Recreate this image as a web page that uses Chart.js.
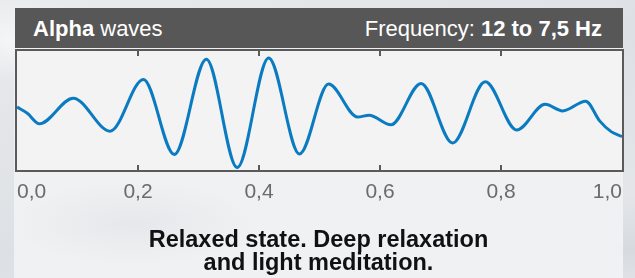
<!DOCTYPE html>
<html>
<head>
<meta charset="utf-8">
<script src="https://cdn.jsdelivr.net/npm/chart.js@4/dist/chart.umd.min.js"></script>
<style>
  html, body { margin: 0; padding: 0; }
  body {
    width: 635px; height: 278px; overflow: hidden; position: relative;
    font-family: "Liberation Sans", Arial, sans-serif;
    background:
      radial-gradient(ellipse 120px 60px at 20px 40px, rgba(255,255,255,0.6), rgba(255,255,255,0) 70%),
      radial-gradient(ellipse 200px 80px at 630px 250px, rgba(200,205,212,0.5), rgba(200,205,212,0) 70%),
      linear-gradient(160deg, #e9ebed 0%, #dde1e5 50%, #e6e8eb 100%);
  }
  #panel {
    position: absolute; left: 14px; top: 8px; width: 609px; height: 270px;
    background:
      radial-gradient(ellipse 180px 60px at 120px 215px, rgba(222,226,231,0.6), rgba(222,226,231,0) 70%),
      rgba(241,242,243,0.92);
  }
  #header {
    position: absolute; left: 15px; top: 8px; width: 608px; height: 40px;
    background: #575757; color: #fff; font-size: 22px; line-height: 40px;
    z-index: 2;
  }
  #header .left { position: absolute; left: 18px; top: 1px; }
  #header .right { position: absolute; right: 21px; top: 1px; }
  #caption {
    position: absolute; left: 14px; width: 609px; top: 228px;
    text-align: center; font-weight: bold; font-size: 23.5px; line-height: 23px;
    color: #111; z-index: 2;
  }
  #wave { position: absolute; left: 0; top: 0; z-index: 1; }
</style>
</head>
<body>
<div id="panel"></div>
<div id="header">
  <span class="left"><b>Alpha</b> waves</span>
  <span class="right">Frequency: <b>12 to 7,5 Hz</b></span>
</div>
<canvas id="wave" width="635" height="278"></canvas>
<div id="caption">Relaxed state. Deep relaxation<br>and light meditation.</div>

<script>
// time in seconds and normalised amplitude
const timeSec = [0.000, 0.017, 0.037, 0.093, 0.154, 0.209, 0.260, 0.313, 0.364, 0.416,
                 0.467, 0.515, 0.563, 0.582, 0.618, 0.668, 0.720, 0.774, 0.826, 0.873,
                 0.902, 0.940, 0.963, 0.982, 1.000];
const amplitude = [0.058, -0.046, -0.223, 0.207, -0.347, 0.521, -0.740, 0.863, -0.959, 0.884,
                   -0.731, 0.445, -0.111, -0.079, -0.240, 0.455, -0.547, 0.483, -0.329, 0.104,
                   -0.007, 0.157, -0.174, -0.355, -0.438];
const tickLabels = ['0,0', '0,2', '0,4', '0,6', '0,8', '1,0'];

const frame = {
    id: 'frame',
    beforeDatasetsDraw(chart) {
        const a = chart.chartArea, ctx = chart.ctx
        ctx.save()
        ctx.fillStyle = '#f3f3f3'
        ctx.fillRect(a.left, a.top, a.right - a.left, a.bottom - a.top)
        ctx.restore()
    },
    afterDatasetsDraw(chart) {
        const a = chart.chartArea, ctx = chart.ctx, x = chart.scales.x
        ctx.save()
        ctx.strokeStyle = '#5a5a5a'
        ctx.lineWidth = 2
        ctx.strokeRect(a.left - 1, a.top - 1, a.right - a.left + 2, a.bottom - a.top + 2)
        // short tick marks inside the box, top and bottom
        x.ticks.forEach((t, i) => {
            if (i === 0 || i === x.ticks.length - 1) return
            const px = Math.round(x.getPixelForValue(t.value))
            ctx.beginPath()
            ctx.moveTo(px, a.top); ctx.lineTo(px, a.top + 5)
            ctx.moveTo(px, a.bottom); ctx.lineTo(px, a.bottom - 5)
            ctx.stroke()
        })
        ctx.restore()
    }
}

new Chart(document.getElementById('wave'), {
    type: 'line',
    data: {
        datasets: [{
            data: timeSec.map((t, i) => ({x: t, y: amplitude[i]})),
            borderColor: '#0b7bc1',
            borderWidth: 3,
            pointRadius: 0,
            cubicInterpolationMode: 'monotone',
            fill: false
        }]
    },
    options: {
        responsive: false,
        animation: false,
        layout: {padding: {left: 17, right: 13, top: 51, bottom: 68}},
        plugins: {legend: {display: false}, tooltip: {enabled: false}},
        scales: {
            x: {
                type: 'linear', min: 0, max: 1,
                afterFit: s => { s.height = 40 },
                border: {display: false},
                grid: {display: false, drawTicks: false},
                ticks: {
                    stepSize: 0.2,
                    align: 'inner',
                    padding: 10,
                    color: '#6b6b6b',
                    font: {family: 'Liberation Sans', size: 21},
                    callback: (v, i) => tickLabels[i]
                }
            },
            y: {display: false, min: -1, max: 1}
        }
    },
    plugins: [frame]
})
</script>
</body>
</html>
